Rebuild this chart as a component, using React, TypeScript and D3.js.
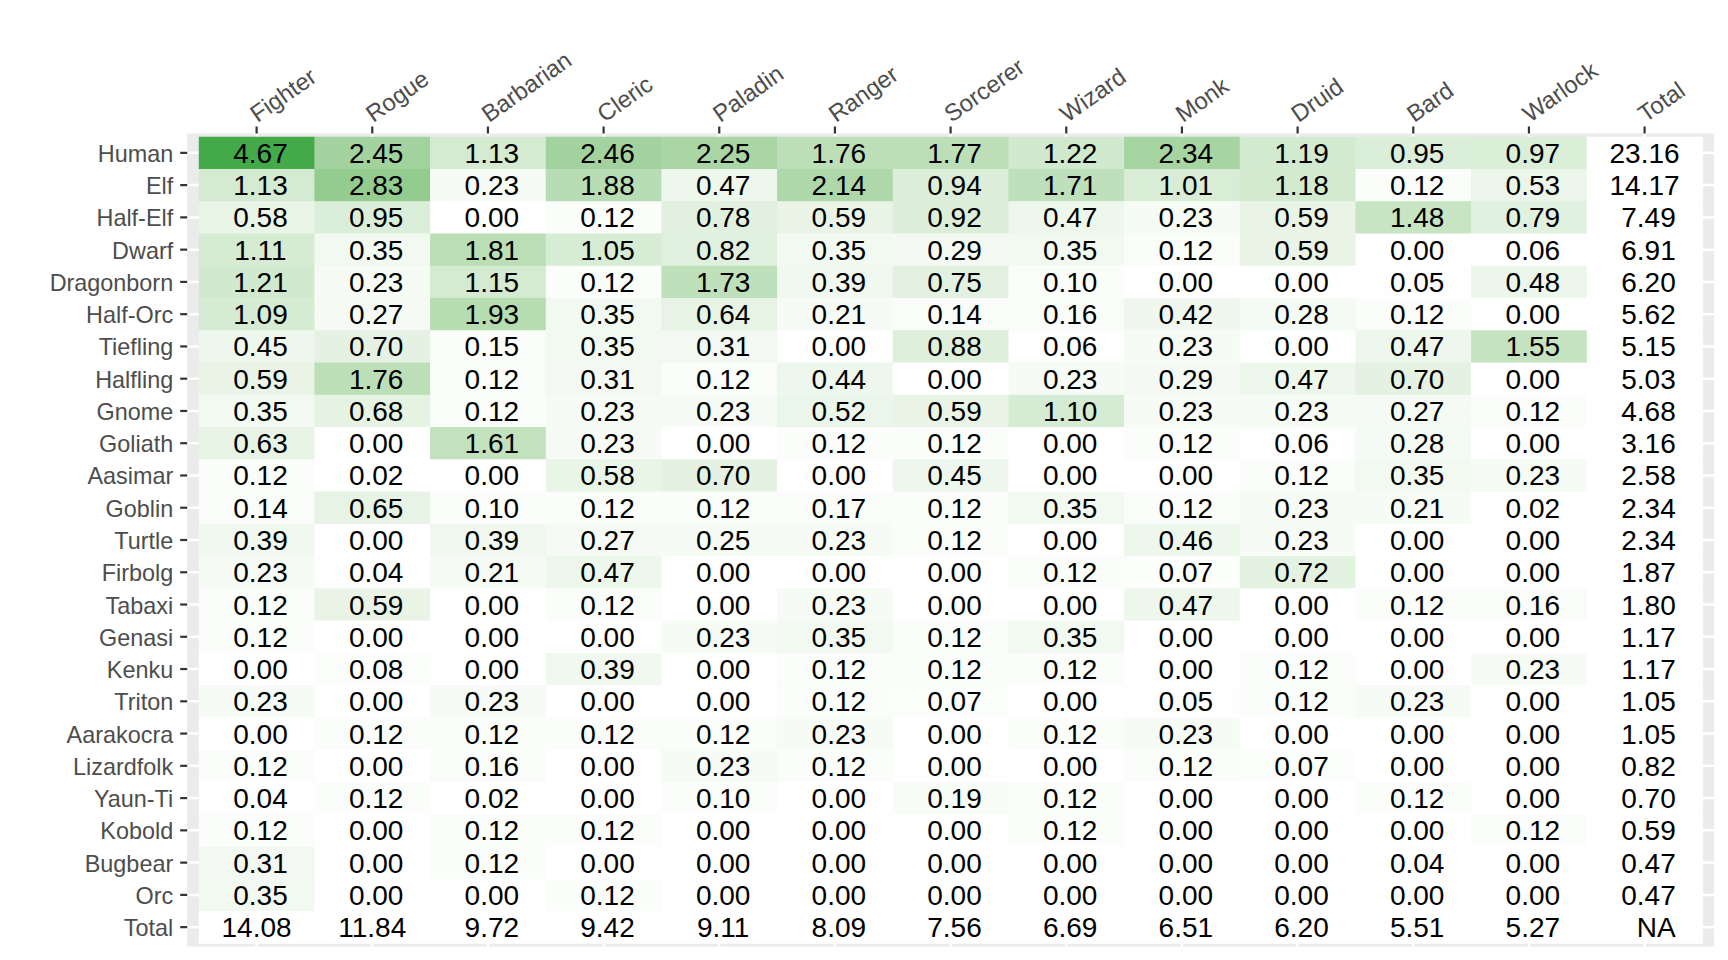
import { useEffect, useRef } from 'react';
import * as d3 from 'd3';

const classes = ['Fighter', 'Rogue', 'Barbarian', 'Cleric', 'Paladin', 'Ranger', 'Sorcerer', 'Wizard', 'Monk', 'Druid', 'Bard', 'Warlock', 'Total'];

const races = ['Human', 'Elf', 'Half-Elf', 'Dwarf', 'Dragonborn', 'Half-Orc', 'Tiefling', 'Halfling', 'Gnome', 'Goliath', 'Aasimar', 'Goblin', 'Turtle', 'Firbolg', 'Tabaxi', 'Genasi', 'Kenku', 'Triton', 'Aarakocra', 'Lizardfolk', 'Yaun-Ti', 'Kobold', 'Bugbear', 'Orc', 'Total'];

// percentage of characters, one array per race, columns in the order of `classes`
const human = [4.67, 2.45, 1.13, 2.46, 2.25, 1.76, 1.77, 1.22, 2.34, 1.19, 0.95, 0.97, 23.16];
const elf = [1.13, 2.83, 0.23, 1.88, 0.47, 2.14, 0.94, 1.71, 1.01, 1.18, 0.12, 0.53, 14.17];
const halfElf = [0.58, 0.95, 0.0, 0.12, 0.78, 0.59, 0.92, 0.47, 0.23, 0.59, 1.48, 0.79, 7.49];
const dwarf = [1.11, 0.35, 1.81, 1.05, 0.82, 0.35, 0.29, 0.35, 0.12, 0.59, 0.0, 0.06, 6.91];
const dragonborn = [1.21, 0.23, 1.15, 0.12, 1.73, 0.39, 0.75, 0.1, 0.0, 0.0, 0.05, 0.48, 6.2];
const halfOrc = [1.09, 0.27, 1.93, 0.35, 0.64, 0.21, 0.14, 0.16, 0.42, 0.28, 0.12, 0.0, 5.62];
const tiefling = [0.45, 0.7, 0.15, 0.35, 0.31, 0.0, 0.88, 0.06, 0.23, 0.0, 0.47, 1.55, 5.15];
const halfling = [0.59, 1.76, 0.12, 0.31, 0.12, 0.44, 0.0, 0.23, 0.29, 0.47, 0.7, 0.0, 5.03];
const gnome = [0.35, 0.68, 0.12, 0.23, 0.23, 0.52, 0.59, 1.1, 0.23, 0.23, 0.27, 0.12, 4.68];
const goliath = [0.63, 0.0, 1.61, 0.23, 0.0, 0.12, 0.12, 0.0, 0.12, 0.06, 0.28, 0.0, 3.16];
const aasimar = [0.12, 0.02, 0.0, 0.58, 0.7, 0.0, 0.45, 0.0, 0.0, 0.12, 0.35, 0.23, 2.58];
const goblin = [0.14, 0.65, 0.1, 0.12, 0.12, 0.17, 0.12, 0.35, 0.12, 0.23, 0.21, 0.02, 2.34];
const turtle = [0.39, 0.0, 0.39, 0.27, 0.25, 0.23, 0.12, 0.0, 0.46, 0.23, 0.0, 0.0, 2.34];
const firbolg = [0.23, 0.04, 0.21, 0.47, 0.0, 0.0, 0.0, 0.12, 0.07, 0.72, 0.0, 0.0, 1.87];
const tabaxi = [0.12, 0.59, 0.0, 0.12, 0.0, 0.23, 0.0, 0.0, 0.47, 0.0, 0.12, 0.16, 1.8];
const genasi = [0.12, 0.0, 0.0, 0.0, 0.23, 0.35, 0.12, 0.35, 0.0, 0.0, 0.0, 0.0, 1.17];
const kenku = [0.0, 0.08, 0.0, 0.39, 0.0, 0.12, 0.12, 0.12, 0.0, 0.12, 0.0, 0.23, 1.17];
const triton = [0.23, 0.0, 0.23, 0.0, 0.0, 0.12, 0.07, 0.0, 0.05, 0.12, 0.23, 0.0, 1.05];
const aarakocra = [0.0, 0.12, 0.12, 0.12, 0.12, 0.23, 0.0, 0.12, 0.23, 0.0, 0.0, 0.0, 1.05];
const lizardfolk = [0.12, 0.0, 0.16, 0.0, 0.23, 0.12, 0.0, 0.0, 0.12, 0.07, 0.0, 0.0, 0.82];
const yaunTi = [0.04, 0.12, 0.02, 0.0, 0.1, 0.0, 0.19, 0.12, 0.0, 0.0, 0.12, 0.0, 0.7];
const kobold = [0.12, 0.0, 0.12, 0.12, 0.0, 0.0, 0.0, 0.12, 0.0, 0.0, 0.0, 0.12, 0.59];
const bugbear = [0.31, 0.0, 0.12, 0.0, 0.0, 0.0, 0.0, 0.0, 0.0, 0.0, 0.04, 0.0, 0.47];
const orc = [0.35, 0.0, 0.0, 0.12, 0.0, 0.0, 0.0, 0.0, 0.0, 0.0, 0.0, 0.0, 0.47];
const total = [14.08, 11.84, 9.72, 9.42, 9.11, 8.09, 7.56, 6.69, 6.51, 6.2, 5.51, 5.27, null];

const rows = [human, elf, halfElf, dwarf, dragonborn, halfOrc, tiefling, halfling, gnome, goliath, aasimar, goblin, turtle, firbolg, tabaxi, genasi, kenku, triton, aarakocra, lizardfolk, yaunTi, kobold, bugbear, orc, total];

const W = 1728;
const H = 960;

export default function App() {
  const ref = useRef<SVGSVGElement>(null);

  useEffect(() => {
    const svg = d3.select(ref.current);
    svg.selectAll('*').remove();

    const panel = { left: 187.2, right: 1714, top: 133.5, bottom: 946.5 };
    const font = '"Liberation Sans", Arial, Helvetica, sans-serif';

    const x = d3.scalePoint().domain(classes).range([panel.left, panel.right]).padding(0.6);
    const y = d3.scalePoint().domain(races).range([panel.top, panel.bottom]).padding(0.6);
    const cw = x.step();
    const ch = y.step();

    const color = d3.scaleLinear<string>()
      .domain([0, 4.67])
      .range(['#ffffff', '#44a948'])
      .interpolate(d3.interpolateLab);

    // panel background + grid
    svg.append('rect')
      .attr('x', panel.left).attr('y', panel.top)
      .attr('width', panel.right - panel.left).attr('height', panel.bottom - panel.top)
      .attr('fill', '#ebebeb');
    svg.append('g').selectAll('line').data(races).join('line')
      .attr('x1', panel.left).attr('x2', panel.right)
      .attr('y1', (d) => y(d)!).attr('y2', (d) => y(d)!)
      .attr('stroke', '#fff').attr('stroke-width', 2.5);
    svg.append('g').selectAll('line').data(classes).join('line')
      .attr('y1', panel.top).attr('y2', panel.bottom)
      .attr('x1', (d) => x(d)!).attr('x2', (d) => x(d)!)
      .attr('stroke', '#fff').attr('stroke-width', 2.5);

    const cells = rows.flatMap((vals, i) =>
      vals.map((v, j) => ({ race: races[i], cls: classes[j], v }))
    );

    svg.append('g').selectAll('rect').data(cells).join('rect')
      .attr('x', (d) => x(d.cls)! - cw / 2)
      .attr('y', (d) => y(d.race)! - ch / 2)
      .attr('width', cw + 0.5)
      .attr('height', ch + 0.5)
      .attr('fill', (d) => (d.race === 'Total' || d.cls === 'Total' || d.v == null ? '#ffffff' : color(d.v)));

    svg.append('g').selectAll('text').data(cells).join('text')
      .attr('x', (d) => x(d.cls)!)
      .attr('y', (d) => y(d.race)! + 10)
      .attr('text-anchor', 'middle')
      .attr('xml:space', 'preserve')
      .style('white-space', 'pre')
      .attr('font-family', font)
      .attr('font-size', 28)
      .attr('fill', '#000')
      .text((d) => (d.v == null ? 'NA' : d.v.toFixed(2)).padStart(5, ' '));

    // y axis
    const ya = svg.append('g');
    ya.selectAll('line').data(races).join('line')
      .attr('x1', panel.left - 7).attr('x2', panel.left)
      .attr('y1', (d) => y(d)!).attr('y2', (d) => y(d)!)
      .attr('stroke', '#333').attr('stroke-width', 2.2);
    ya.selectAll('text').data(races).join('text')
      .attr('x', panel.left - 14)
      .attr('y', (d) => y(d)! + 9)
      .attr('text-anchor', 'end')
      .attr('font-family', font)
      .attr('font-size', 23.4)
      .attr('fill', '#4d4d4d')
      .text((d) => d);

    // x axis on top
    const xa = svg.append('g');
    xa.selectAll('line').data(classes).join('line')
      .attr('y1', panel.top - 7).attr('y2', panel.top)
      .attr('x1', (d) => x(d)!).attr('x2', (d) => x(d)!)
      .attr('stroke', '#333').attr('stroke-width', 2.2);
    xa.selectAll('text').data(classes).join('text')
      .attr('transform', (d) => `translate(${x(d)! + 1},123) rotate(-35)`)
      .attr('text-anchor', 'start')
      .attr('font-family', font)
      .attr('font-size', 23.8)
      .attr('fill', '#4d4d4d')
      .text((d) => d);
  }, []);

  return (
    <svg
      ref={ref}
      width={W}
      height={H}
      style={{ position: 'absolute', left: 0, top: 0, display: 'block', background: '#fff' }}
    />
  );
}
